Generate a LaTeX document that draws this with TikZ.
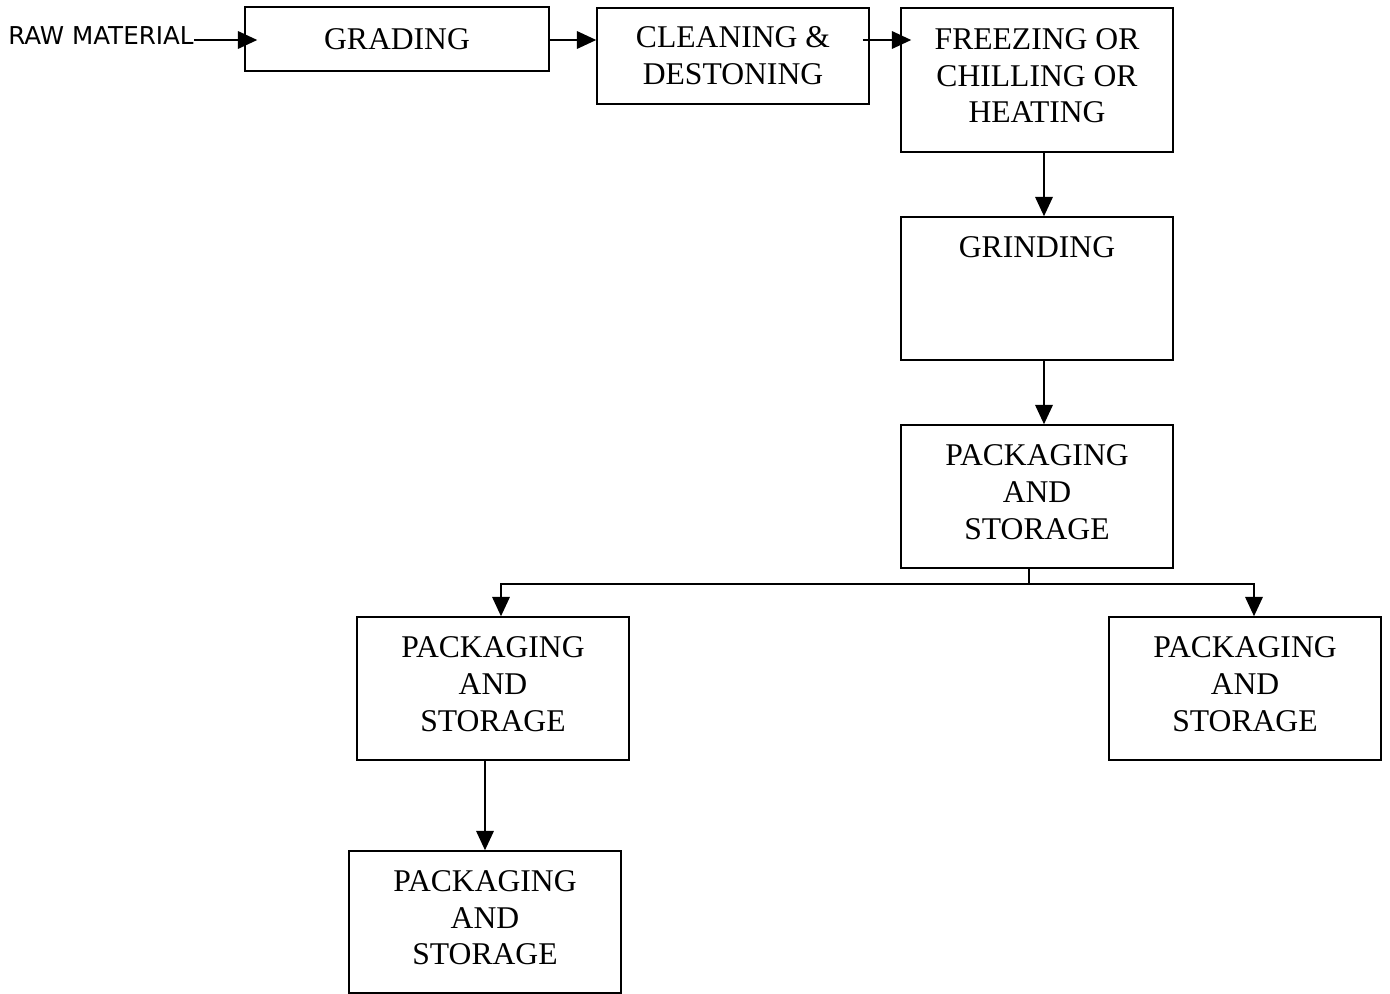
\documentclass[tikz,border=0pt]{standalone}
\usepackage{fontspec}
\setmainfont{Liberation Serif}
\newfontfamily\rawfont{DejaVu Sans}
\usetikzlibrary{arrows.meta}
\tikzset{
    stage/.style 2 args={draw, line width=0.9pt, align=center, inner sep=0pt,
        minimum width=#1, minimum height=#2,
        font=\fontsize{18pt}{21pt}\selectfont},
    tall/.style={text depth=5pt},
    flow/.style={line width=0.9pt, -{Triangle[length=11pt,width=10pt]}}
}
\begin{document}
\begin{tikzpicture}[x=0.02cm, y=-0.02cm]
        \useasboundingbox (0,0) rectangle (1390,994);
        % top row
        \node[anchor=west, inner sep=0pt, font=\rawfont\fontsize{14pt}{16pt}\selectfont] (raw) at (8,36) {RAW MATERIAL};
        \node[stage={6.08cm}{1.28cm}] (grading) at (397,39) {GRADING};
        \node[stage={5.44cm}{1.92cm}] (cleaning) at (733,56) {CLEANING \&\\DESTONING};
        \node[stage={5.44cm}{2.88cm}, tall] (freezing) at (1037,80) {FREEZING OR\\CHILLING OR\\HEATING};
        % main column
        \node[stage={5.44cm}{2.86cm}, tall] (grinding) at (1037,288.5) {GRINDING\\~\\~};
        \node[stage={5.44cm}{2.86cm}, tall] (pack1) at (1037,496.5) {PACKAGING\\AND\\STORAGE};
        % branches
        \node[stage={5.44cm}{2.86cm}, tall] (pack2) at (493,688.5) {PACKAGING\\AND\\STORAGE};
        \node[stage={5.44cm}{2.86cm}, tall] (pack3) at (1245,688.5) {PACKAGING\\AND\\STORAGE};
        \node[stage={5.44cm}{2.84cm}, tall] (pack4) at (485,922) {PACKAGING\\AND\\STORAGE};
        \coordinate (bus) at (1029,584);
        % connectors
        \draw[flow, shorten >=-0.26cm] (raw.east |- 0,40) -- (grading.west |- 0,40);
        \draw[flow] (grading.east |- 0,40) -- (cleaning.west |- 0,40);
        \draw[flow] ([xshift=-0.14cm]cleaning.east |- 0,40) -- ([xshift=0.22cm]freezing.west |- 0,40);
        \draw[flow] ([xshift=0.14cm]freezing.south) -- ([xshift=0.14cm]grinding.north);
        \draw[flow] ([xshift=0.14cm]grinding.south) -- ([xshift=0.14cm]pack1.north);
        \draw[line width=0.9pt] (bus |- pack1.south) -- (bus);
        \draw[flow] (bus) -| ([xshift=0.16cm]pack2.north);
        \draw[flow] (bus) -| ([xshift=0.18cm]pack3.north);
        \draw[flow] (pack2.south -| pack4.north) -- (pack4.north);
    \end{tikzpicture}
\end{document}
